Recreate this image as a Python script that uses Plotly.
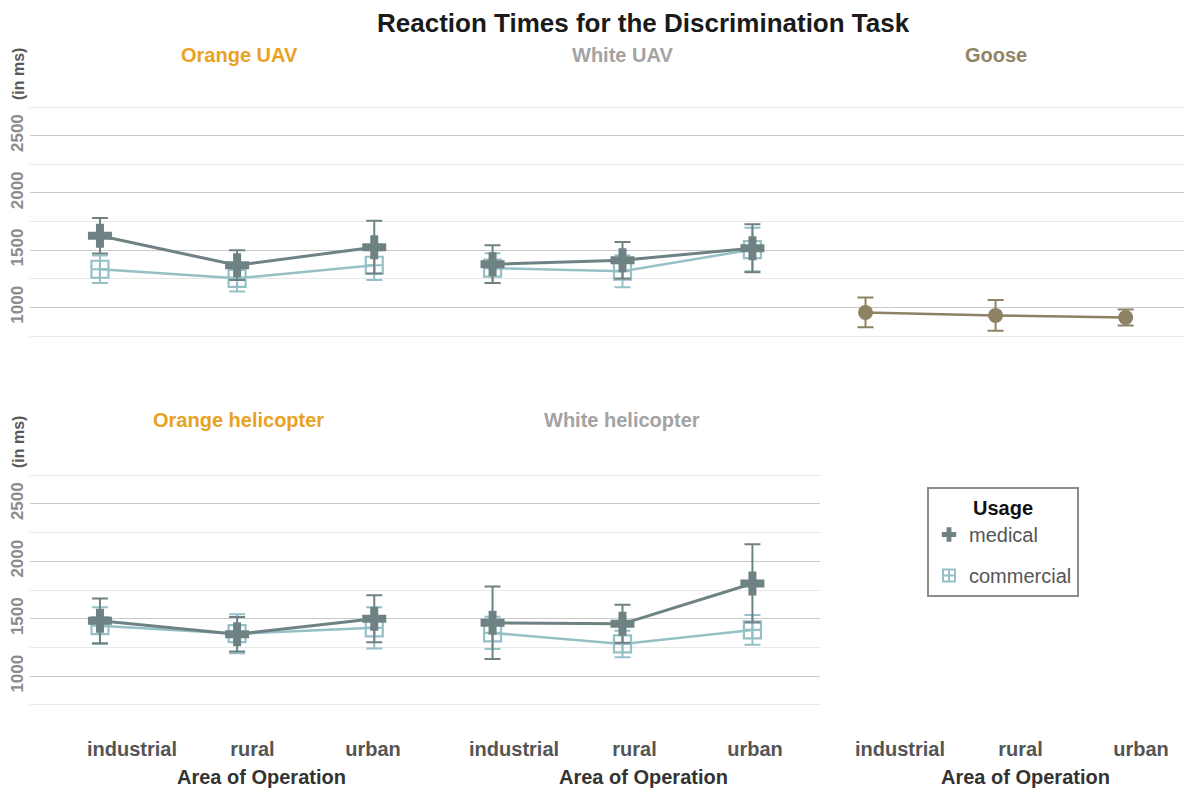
import plotly.graph_objects as go

areas = ["industrial", "rural", "urban"]

# Orange UAV
ouav_med = [1625, 1368, 1526]
ouav_med_err = [155, 130, 230]
ouav_com = [1333, 1254, 1368]
ouav_com_err = [120, 115, 130]
# White UAV
wuav_med = [1377, 1412, 1517]
wuav_med_err = [165, 160, 210]
wuav_com = [1342, 1316, 1505]
wuav_com_err = [130, 140, 190]
# Goose
goose = [956, 930, 912]
goose_err = [130, 135, 70]
# Orange helicopter
oheli_med = [1482, 1365, 1500]
oheli_med_err = [195, 150, 205]
oheli_com = [1440, 1370, 1421]
oheli_com_err = [160, 170, 180]
# White helicopter
wheli_med = [1465, 1456, 1807]
wheli_med_err = [315, 165, 340]
wheli_com = [1377, 1281, 1403]
wheli_com_err = [140, 115, 130]

panel_titles = ["Orange UAV", "White UAV", "Goose", "Orange helicopter", "White helicopter"]
title_colors = ["#E8A21F", "#A3A3A3", "#918566", "#E8A21F", "#A3A3A3"]
usage = ["medical", "commercial"]
y_ticks = [1000, 1500, 2000, 2500]

MED = "#6F8283"
COM = "#94C0C6"
GOO = "#8E8264"

fig = go.Figure()

def add_pair(med, med_err, com, com_err, xa, ya):
    fig.add_trace(go.Scatter(
        x=areas, y=com, xaxis=xa, yaxis=ya, mode="lines+markers", name="commercial",
        showlegend=False,
        line=dict(color=COM, width=2.5),
        marker=dict(symbol="square-cross-open", size=17, color=COM, line=dict(width=2.2, color=COM)),
        error_y=dict(type="data", array=com_err, color=COM, thickness=2, width=8)))
    fig.add_trace(go.Scatter(
        x=areas, y=med, xaxis=xa, yaxis=ya, mode="lines+markers", name="medical",
        showlegend=False,
        line=dict(color=MED, width=3),
        marker=dict(symbol="cross", size=20, color=MED, line=dict(width=0)),
        error_y=dict(type="data", array=med_err, color=MED, thickness=2, width=8)))

add_pair(ouav_med, ouav_med_err, ouav_com, ouav_com_err, "x", "y")
add_pair(wuav_med, wuav_med_err, wuav_com, wuav_com_err, "x2", "y2")
fig.add_trace(go.Scatter(
    x=areas, y=goose, xaxis="x3", yaxis="y3", mode="lines+markers", name="Goose",
    showlegend=False, line=dict(color=GOO, width=2.5),
    marker=dict(symbol="circle", size=15, color=GOO),
    error_y=dict(type="data", array=goose_err, color=GOO, thickness=2, width=8)))
add_pair(oheli_med, oheli_med_err, oheli_com, oheli_com_err, "x4", "y4")
add_pair(wheli_med, wheli_med_err, wheli_com, wheli_com_err, "x5", "y5")

# label-only axes for the category tick labels along the bottom
for xa, ya in (("x6", "y4"), ("x7", "y5"), ("x8", "y8")):
    fig.add_trace(go.Scatter(x=areas, y=[None, None, None], xaxis=xa, yaxis=ya,
                             mode="markers", showlegend=False, hoverinfo="skip"))

# legend-only entries (marker symbols only, as in the reference legend)
fig.add_trace(go.Scatter(x=[None], y=[None], xaxis="x8", yaxis="y8", mode="markers",
                         name=usage[0], legendgroup="g1", showlegend=True,
                         marker=dict(symbol="cross", size=23, color=MED, line=dict(width=0))))
fig.add_trace(go.Scatter(x=[None], y=[None], xaxis="x8", yaxis="y8", mode="markers",
                         name=usage[1], legendgroup="g2", showlegend=True,
                         marker=dict(symbol="square-cross-open", size=15, color=COM,
                                     line=dict(width=2, color=COM))))

W, H = 1192, 789
OFF = 8  # page body margin offset
L, T = 30 - OFF, 105 - OFF
R = OFF
B = H - (707 - OFF)
pw = W - L - R
ph = H - T - B

def px(xp):
    return (xp - OFF - L) / pw

def py(yp):
    return (H - B - (yp - OFF)) / ph

col_dom = [[px(30), px(425)], [px(425), px(820)], [px(820), px(1192)]]
x_ranges = [[-0.51, 2.37], [-0.52, 2.52], [-0.35, 2.51]]
lab_ranges = [[-0.846, 2.432], [-0.739, 2.539], [-0.664, 2.423]]
top_dom = [py(338), py(105)]
bot_dom = [py(707), py(473)]
y_range = [732.5, 2767.5]

ytick_font = dict(family="Liberation Sans", size=17, color="#8C8C8C")
xtick_font = dict(family="Liberation Sans", size=20, color="#555555")

layout = dict(
    width=W, height=H,
    margin=dict(l=L, r=R, t=T, b=B, autoexpand=False),
    paper_bgcolor="white", plot_bgcolor="white",
    font=dict(family="Liberation Sans", color="#333333"),
    showlegend=True,
    legend=dict(x=px(927), y=py(487), xanchor="left", yanchor="top",
                bordercolor="#8C8C8C", borderwidth=2, bgcolor="white",
                title=dict(text="<b>Usage</b>", font=dict(size=20, color="#111111"), side="top center"),
                font=dict(size=20, color="#555555"), itemsizing="constant",
                traceorder="grouped", tracegroupgap=12, itemwidth=30),
)

def base_x(dom, anchor, rng):
    return dict(domain=dom, anchor=anchor, type="category",
                categoryorder="array", categoryarray=areas, range=rng,
                showgrid=False, zeroline=False, showline=False, ticks="",
                automargin=False, showticklabels=False)

def base_y(dom, anchor, visible=True):
    return dict(domain=dom, anchor=anchor, range=y_range, tickvals=y_ticks,
                ticktext=[f"<b>{v}</b>" for v in y_ticks],
                showticklabels=False, tickangle=-90, automargin=False,
                tickfont=ytick_font, ticks="", ticklabelstandoff=3,
                showgrid=visible, gridcolor="#C9C9C9", gridwidth=1.3,
                minor=dict(tick0=750, dtick=500, showgrid=visible, gridcolor="#E8E8E8", gridwidth=1),
                zeroline=False, showline=False, visible=visible)

layout["xaxis"] = base_x(col_dom[0], "y", x_ranges[0])
layout["xaxis2"] = base_x(col_dom[1], "y2", x_ranges[1])
layout["xaxis3"] = base_x(col_dom[2], "y3", x_ranges[2])
layout["xaxis4"] = base_x(col_dom[0], "y4", x_ranges[0])
layout["xaxis5"] = base_x(col_dom[1], "y5", x_ranges[1])
layout["yaxis"] = base_y(top_dom, "x")
layout["yaxis"]["showticklabels"] = True
layout["yaxis2"] = base_y(top_dom, "x2")
layout["yaxis3"] = base_y(top_dom, "x3")
layout["yaxis4"] = base_y(bot_dom, "x4")
layout["yaxis4"]["showticklabels"] = True
layout["yaxis5"] = base_y(bot_dom, "x5")
layout["yaxis8"] = base_y(bot_dom, "x8", visible=False)

for name, anchor, col, over in (("xaxis6", "y4", 0, "x4"), ("xaxis7", "y5", 1, "x5"),
                                ("xaxis8", "y8", 2, None)):
    ax = base_x(col_dom[col], anchor, lab_ranges[col])
    ax.update(showticklabels=True, tickfont=xtick_font, ticklabelstandoff=28,
              tickvals=areas, ticktext=[f"<b>{a}</b>" for a in areas], side="bottom")
    if over:
        ax["overlaying"] = over
    layout[name] = ax

def ann(text, xx, yy, size, color, angle=0):
    return dict(text=text, x=px(xx), y=py(yy), xref="paper", yref="paper",
                xanchor="center", yanchor="middle", showarrow=False, textangle=angle,
                font=dict(size=size, color=color))

annotations = [ann("<b>Reaction Times for the Discrimination Task</b>", 643, 23, 26, "#1A1A1A")]
title_pos = [(239, 55), (622, 55), (996, 55), (238, 420), (622, 420)]
for t, c, (xx, yy) in zip(panel_titles, title_colors, title_pos):
    annotations.append(ann(f"<b>{t}</b>", xx, yy, 20, c))
for yy in (74, 442):
    annotations.append(ann("<b>(in ms)</b>", 19, yy, 16, "#5A5A5A", -90))
for xx in (261, 643, 1025):
    annotations.append(ann("<b>Area of Operation</b>", xx, 777, 20, "#333333"))
layout["annotations"] = annotations

fig.update_layout(**layout)
fig.write_html("out.html")
